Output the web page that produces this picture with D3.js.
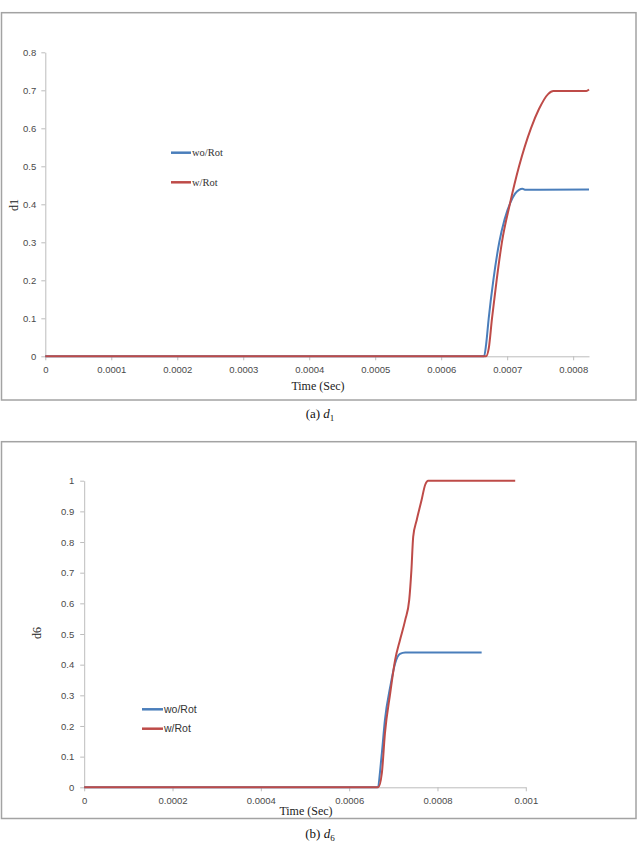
<!DOCTYPE html>
<html>
<head>
<meta charset="utf-8">
<script src="https://cdn.jsdelivr.net/npm/d3@7"></script>
<style>
  body { margin: 0; background: #fff; }
  svg { display: block; }
</style>
</head>
<body>
<svg id="chart" width="639" height="842"></svg>
<script>
// Series, as [time (s), value] pairs.
const d1WoRot = [
  [0, 0], [0.000665, 0], [0.000668, 0.03], [0.000672, 0.1], [0.000679, 0.2],
  [0.000688, 0.3], [0.000696, 0.36], [0.000705, 0.405], [0.000712, 0.428],
  [0.000718, 0.438], [0.000723, 0.441], [0.000728, 0.438], [0.000824, 0.439]
];
const d1WRot = [
  [0, 0], [0.000668, 0], [0.000672, 0.02], [0.000677, 0.1], [0.000684, 0.2],
  [0.000692, 0.3], [0.000704, 0.4], [0.000718, 0.5], [0.000736, 0.6],
  [0.000748, 0.65], [0.000762, 0.69], [0.00077, 0.698], [0.00082, 0.698],
  [0.000824, 0.702]
];
const d6WoRot = [
  [0, 0], [0.000664, 0], [0.000674, 0.111], [0.000681, 0.22], [0.000693, 0.328],
  [0.000704, 0.404], [0.000715, 0.435], [0.000727, 0.44], [0.0009, 0.44]
];
const d6WRot = [
  [0, 0], [0.000666, 0], [0.000674, 0.046], [0.000681, 0.176], [0.000693, 0.307],
  [0.000704, 0.415], [0.000715, 0.48], [0.000727, 0.546], [0.000736, 0.611],
  [0.000741, 0.709], [0.000745, 0.817], [0.000753, 0.872], [0.000764, 0.937],
  [0.000772, 0.986], [0.000779, 1.0], [0.000976, 1.0]
];

// Tick values.
const d1XTicks = [0, 0.0001, 0.0002, 0.0003, 0.0004, 0.0005, 0.0006, 0.0007, 0.0008];
const d1YTicks = [0, 0.1, 0.2, 0.3, 0.4, 0.5, 0.6, 0.7, 0.8];
const d6XTicks = [0, 0.0002, 0.0004, 0.0006, 0.0008, 0.001];
const d6YTicks = [0, 0.1, 0.2, 0.3, 0.4, 0.5, 0.6, 0.7, 0.8, 0.9, 1];

const seriesNames = ["wo/Rot", "w/Rot"];
const seriesColors = ["#4a7ebb", "#be4b48"];

const svg = d3.select("#chart");
svg.append("rect").attr("width", 639).attr("height", 842).attr("fill", "#fff");

const serif = "'Liberation Serif', 'Times New Roman', serif";
const sans = "'Liberation Sans', Arial, sans-serif";

/**
 * Draws one framed panel: axes, two series, legend, titles and caption.
 */
function drawPanel(opts) {
  const g = svg.append("g");

  // Outer frame.
  g.append("rect")
    .attr("x", opts.frame[0]).attr("y", opts.frame[1])
    .attr("width", opts.frame[2]).attr("height", opts.frame[3])
    .attr("fill", "none").attr("stroke", "#a3a3a3").attr("stroke-width", 1.5);

  const x = d3.scaleLinear().domain(opts.xDomain).range(opts.xRange);
  const y = d3.scaleLinear().domain(opts.yDomain).range(opts.yRange);

  const fmt = (d) => (d === 0 ? "0" : String(+d.toPrecision(6)));

  const xAxis = g.append("g")
    .attr("transform", `translate(0,${opts.yRange[0]})`)
    .call(d3.axisBottom(x).tickValues(opts.xTicks).tickFormat(fmt).tickSize(4).tickPadding(6).tickSizeOuter(0));
  const yAxis = g.append("g")
    .attr("transform", `translate(${opts.xRange[0]},0)`)
    .call(d3.axisLeft(y).tickValues(opts.yTicks).tickFormat(fmt).tickSize(4).tickPadding(opts.yPad).tickSizeOuter(0));

  [xAxis, yAxis].forEach((a) => {
    a.select(".domain").attr("stroke", "#bdbdbd");
    a.selectAll(".tick line").attr("stroke", "#bdbdbd");
    a.selectAll(".tick text")
      .attr("fill", "#4a4a4a")
      .style("font-family", sans)
      .style("font-size", opts.tickFont + "px");
  });

  // Series lines.
  const line = d3.line()
    .x((d) => x(d[0]))
    .y((d) => y(d[1]))
    .curve(d3.curveMonotoneX);

  opts.series.forEach((s, i) => {
    g.append("path")
      .datum(s)
      .attr("fill", "none")
      .attr("stroke", seriesColors[i])
      .attr("stroke-width", 2)
      .attr("stroke-linejoin", "round")
      .attr("d", line);
  });

  // Legend.
  seriesNames.forEach((name, i) => {
    const ly = opts.legend.y + i * opts.legend.gap;
    g.append("line")
      .attr("x1", opts.legend.x).attr("x2", opts.legend.x + opts.legend.len)
      .attr("y1", ly).attr("y2", ly)
      .attr("stroke", seriesColors[i]).attr("stroke-width", 2.5);
    g.append("text")
      .attr("x", opts.legend.x + opts.legend.len + 1)
      .attr("y", ly)
      .attr("dy", "0.35em")
      .attr("fill", "#333")
      .style("font-family", opts.legend.font)
      .style("font-size", opts.legend.size + "px")
      .text(name);
  });

  // Axis titles.
  g.append("text")
    .attr("x", opts.xTitle[0]).attr("y", opts.xTitle[1])
    .attr("text-anchor", "middle")
    .attr("fill", "#222")
    .style("font-family", serif).style("font-size", "12px")
    .text("Time (Sec)");
  g.append("text")
    .attr("transform", `translate(${opts.yTitle[0]},${opts.yTitle[1]}) rotate(-90)`)
    .attr("text-anchor", "middle")
    .attr("dy", "0.35em")
    .attr("fill", "#222")
    .style("font-family", serif).style("font-size", "12px")
    .text(opts.yLabel);

  // Caption below frame.
  const cap = g.append("text")
    .attr("x", 320).attr("y", opts.captionY)
    .attr("text-anchor", "middle")
    .attr("fill", "#111")
    .style("font-family", serif).style("font-size", "13px");
  cap.append("tspan").text(opts.captionPrefix + " ");
  cap.append("tspan").style("font-style", "italic").text("d");
  cap.append("tspan").attr("dy", 3).style("font-size", "9px").text(opts.captionSub);
}

drawPanel({
  frame: [1.5, 12.7, 634.5, 387.3],
  xDomain: [0, 0.000824], xRange: [45.3, 589],
  yDomain: [0, 0.8], yRange: [356.3, 52.3],
  xTicks: d1XTicks, yTicks: d1YTicks,
  yPad: 5, tickFont: 9.5,
  series: [d1WoRot, d1WRot],
  legend: { x: 171, y: 152.7, gap: 29.6, len: 20, font: serif, size: 10.5 },
  xTitle: [318, 390], yTitle: [14, 205], yLabel: "d1",
  captionY: 418, captionPrefix: "(a)", captionSub: "1"
});

drawPanel({
  frame: [1.5, 441.7, 634.5, 376.8],
  xDomain: [0, 0.001], xRange: [84.2, 525.8],
  yDomain: [0, 1], yRange: [787.3, 480.7],
  xTicks: d6XTicks, yTicks: d6YTicks,
  yPad: 6, tickFont: 9.5,
  series: [d6WoRot, d6WRot],
  legend: { x: 142, y: 709.3, gap: 19.4, len: 21, font: sans, size: 10.5 },
  xTitle: [306, 815], yTitle: [37, 633], yLabel: "d6",
  captionY: 838, captionPrefix: "(b)", captionSub: "6"
});
</script>
</body>
</html>
